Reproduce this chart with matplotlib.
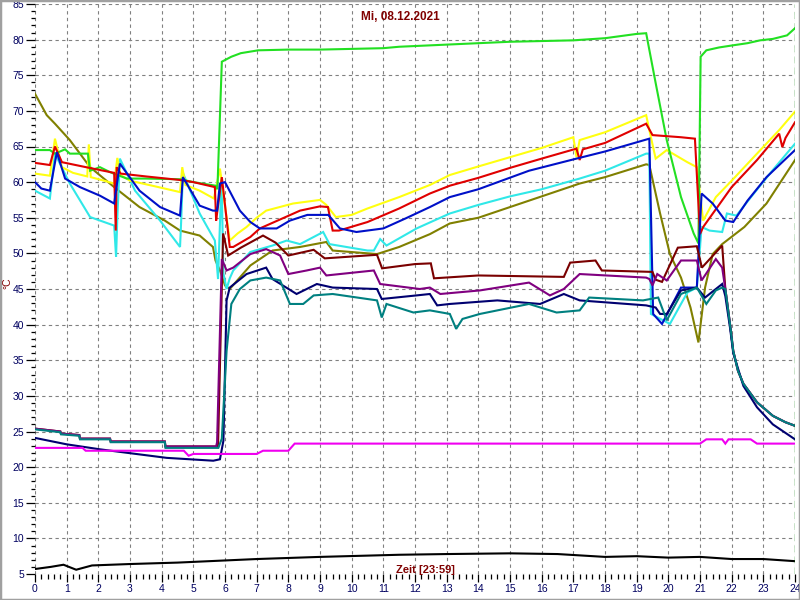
import matplotlib
matplotlib.use("Agg")
import matplotlib.pyplot as plt
from matplotlib.ticker import MultipleLocator
from matplotlib.patches import Rectangle

# ---------------- data (hour of day, °C) ----------------
title = "Mi, 08.12.2021"
xlabel = "Zeit [23:59]"
ylabel = "°C"

green_t = [0, 0.47, 0.63, 0.95, 1.1, 1.67, 1.74, 2.05, 2.37, 2.9, 3.5, 4.6, 5.0, 5.7, 5.76, 5.9, 6.2, 6.5, 7.05, 8.0,
           9.0, 10.0, 11.0, 11.5, 12.0, 13.0, 14.0, 15.0, 16.0, 17.0, 18.0, 18.5, 19.0, 19.3, 19.6, 19.95, 20.4, 20.8,
           20.95, 21.02, 21.2, 21.6, 22.04, 22.5, 22.9, 23.3, 23.75, 24.0]
green_v = [64.5, 64.5, 64.0, 64.6, 64.0, 64.0, 61.6, 62.1, 61.4, 60.5, 60.5, 60.4, 60.0, 59.5, 59.0, 76.9, 77.6, 78.1,
           78.5, 78.6, 78.6, 78.7, 78.8, 79.0, 79.1, 79.3, 79.5, 79.7, 79.8, 79.9, 80.2, 80.5, 80.8, 80.9, 73.9, 65.9,
           57.9, 52.8, 51.4, 77.6, 78.5, 78.9, 79.2, 79.5, 79.9, 80.1, 80.6, 81.6]

yellow_t = [0, 0.47, 0.63, 0.85, 1.2, 1.65, 1.7, 1.76, 2.1, 2.5, 2.6, 2.7, 3.0, 3.8, 4.58, 4.65, 4.75, 5.2, 5.65,
            5.84, 6.15, 6.4, 6.68, 7.0, 7.3, 8.15, 9.0, 9.2, 9.5, 10.0, 10.5, 11.5, 12.47, 13.1, 14.0, 15.0, 16.0,
            17.0, 17.1, 17.2, 18.0, 19.3, 19.4, 19.6, 19.95, 20.6, 20.9, 21.1, 21.5, 22.0, 22.8, 23.5, 24.0]
yellow_v = [61.2, 60.9, 66.1, 62.1, 61.3, 60.8, 65.3, 60.7, 60.3, 59.8, 63.4, 61.0, 60.2, 59.4, 58.6, 62.1, 59.6,
            58.8, 57.7, 61.9, 51.8, 52.8, 53.7, 55.0, 56.0, 57.0, 57.5, 56.8, 55.1, 55.4, 56.3, 57.9, 59.6, 61.0,
            62.2, 63.5, 64.8, 66.3, 63.5, 65.9, 67.0, 69.4, 67.3, 63.3, 64.5, 62.8, 62.1, 54.6, 57.9, 60.2, 64.0,
            67.3, 69.9]

red_t = [0, 0.47, 0.63, 0.85, 1.5, 2.05, 2.5, 2.55, 2.58, 2.62, 2.7, 3.5, 4.58, 5.0, 5.68, 5.72, 5.76, 5.9, 6.15,
         6.26, 6.8, 7.1, 8.37, 9.0, 9.25, 9.4, 9.6, 10.5, 11.5, 12.47, 13.1, 14.0, 15.0, 16.0, 17.1, 17.2, 17.3,
         18.0, 19.3, 19.5, 20.4, 20.84, 21.0, 21.1, 22.0, 22.8, 23.5, 23.6, 23.7, 24.0]
red_v = [62.7, 62.4, 65.0, 62.8, 62.2, 61.7, 61.3, 53.2, 62.1, 61.8, 61.2, 60.8, 60.3, 60.0, 59.3, 54.6, 56.0, 60.7,
         50.9, 50.9, 52.3, 53.5, 56.0, 56.6, 56.5, 53.2, 53.2, 54.4, 56.3, 58.4, 59.5, 60.6, 62.0, 63.3, 64.7, 63.1,
         64.6, 65.5, 68.2, 66.6, 66.3, 66.1, 52.7, 53.7, 59.3, 63.1, 66.8, 64.9, 66.2, 68.4]

blue_t = [0, 0.2, 0.47, 0.69, 0.95, 1.42, 2.05, 2.5, 2.68, 3.3, 3.95, 4.58, 4.67, 5.2, 5.62, 5.75, 5.84, 6.0, 6.47,
          6.8, 7.1, 7.63, 8.05, 8.6, 9.26, 9.63, 10.15, 11.0, 11.7, 12.47, 13.1, 14.0, 15.6, 17.1, 18.0, 19.4,
          19.52, 19.8, 20.4, 20.9, 21.05, 21.4, 21.8, 22.05, 22.5, 23.1, 24.0]
blue_v = [60.0, 59.1, 58.8, 64.2, 60.5, 59.3, 58.1, 57.0, 62.6, 58.8, 56.5, 55.3, 60.7, 56.7, 56.0, 56.0, 59.8, 60.0,
          56.0, 54.4, 53.5, 53.5, 54.6, 55.4, 55.4, 53.5, 53.0, 53.5, 54.9, 56.5, 57.9, 59.0, 61.6, 63.3, 64.3,
          66.1, 41.5, 40.1, 45.2, 45.2, 58.4, 57.0, 54.6, 54.4, 57.4, 60.7, 64.5]

cyan_t = [0, 0.47, 0.63, 1.1, 1.74, 2.5, 2.56, 2.6, 2.68, 3.16, 3.95, 4.58, 4.62, 4.67, 5.2, 5.68, 5.78, 5.89, 5.95,
          6.05, 6.15, 6.26, 6.8, 7.5, 7.95, 8.37, 9.1, 9.3, 10.5, 10.7, 10.9, 11.1, 12.05, 13.1, 14.0, 15.0, 16.0,
          17.2, 18.0, 19.3, 19.4, 19.45, 20.05, 20.6, 20.9, 21.05, 21.3, 21.7, 21.85, 22.15, 22.7, 23.3, 24.0]
cyan_v = [58.8, 57.7, 64.0, 59.8, 55.1, 53.9, 49.5, 55.0, 63.3, 58.8, 54.6, 50.9, 55.0, 61.3, 55.6, 51.8, 46.4,
          60.5, 47.2, 45.0, 46.5, 47.6, 50.2, 51.1, 51.8, 51.3, 53.0, 51.3, 50.4, 50.4, 52.0, 51.1, 53.5, 55.6,
          56.8, 58.0, 59.0, 60.5, 61.6, 64.0, 64.0, 41.5, 40.1, 44.5, 45.2, 53.7, 53.2, 53.0, 55.6, 55.3, 58.4,
          61.7, 65.4]

olive_t = [0, 0.37, 0.63, 1.1, 1.74, 2.5, 3.3, 4.1, 4.58, 5.2, 5.62, 5.7, 5.85, 6.0, 6.15, 6.8, 7.5, 8.37, 9.2,
           9.4, 10.8, 11.5, 12.47, 13.1, 14.0, 15.6, 17.2, 18.0, 19.3, 19.4, 19.74, 20.05, 20.4, 20.7, 20.95,
           21.16, 21.4, 21.7, 22.4, 23.1, 24.0]
olive_v = [72.4, 69.4, 68.2, 65.9, 62.1, 59.3, 56.5, 54.6, 53.2, 52.5, 50.9, 49.0, 47.5, 45.5, 45.0, 48.3, 50.4,
           50.9, 51.6, 50.4, 49.9, 50.9, 52.7, 54.2, 55.0, 57.4, 59.8, 60.7, 62.5, 62.4, 55.6, 49.9, 46.6, 42.4,
           37.5, 45.2, 49.9, 51.3, 53.7, 57.0, 63.1]

maroon_t = [0, 0.8, 0.82, 1.4, 1.42, 2.37, 2.39, 4.1, 4.12, 5.78, 5.94, 6.1, 6.5, 7.2, 7.6, 8.0, 8.8, 9.15, 10.8,
            10.96, 12.0, 12.5, 12.6, 14.0, 16.7, 16.9, 17.7, 17.9, 19.5, 19.6, 19.8, 20.3, 20.9, 21.06, 21.7,
            21.8, 21.95, 22.05, 22.2, 22.37, 22.8, 23.3, 23.7, 24.0]
maroon_v = [25.4, 25.0, 24.7, 24.5, 24.0, 24.0, 23.6, 23.6, 22.9, 22.9, 52.8, 49.7, 50.8, 52.5, 51.5, 49.7, 50.5,
            49.3, 49.8, 47.9, 48.5, 48.6, 46.5, 46.9, 46.7, 48.7, 49.0, 47.6, 47.4, 46.3, 46.0, 50.8, 51.0, 48.0,
            51.1, 45.0, 40.0, 36.3, 33.5, 31.7, 29.1, 27.2, 26.3, 25.8]

purple_t = [0, 0.8, 0.82, 1.4, 1.42, 2.37, 2.39, 4.1, 4.12, 5.72, 5.75, 5.9, 6.05, 6.26, 6.8, 7.3, 7.74, 8.0, 8.58,
            9.0, 9.2, 10.7, 10.9, 12.15, 12.47, 12.8, 14.05, 15.6, 16.26, 16.7, 17.2, 19.3, 19.4, 19.5, 19.65,
            19.95, 20.4, 20.9, 21.05, 21.5, 21.7, 21.8, 21.95, 22.05, 22.2, 22.37, 22.8, 23.3, 23.7, 24.0]
purple_v = [25.4, 25.0, 24.7, 24.5, 24.0, 24.0, 23.6, 23.6, 22.9, 22.9, 23.5, 49.2, 47.6, 48.0, 49.9, 50.6, 49.7,
            47.1, 47.6, 48.0, 46.9, 47.6, 45.7, 45.0, 45.2, 44.3, 44.8, 45.9, 44.1, 45.0, 47.1, 46.6, 46.4, 45.5,
            47.1, 46.2, 49.0, 49.0, 46.2, 49.2, 48.0, 45.0, 40.0, 36.3, 33.5, 31.7, 29.1, 27.2, 26.3, 25.8]

navy_t = [0, 1.0, 2.05, 3.1, 4.16, 5.63, 5.84, 5.95, 6.05, 6.15, 6.68, 7.3, 7.5, 8.26, 8.9, 9.4, 10.8, 10.95,
          12.05, 12.47, 12.7, 13.1, 14.6, 15.95, 16.7, 17.2, 19.3, 19.6, 19.74, 19.95, 20.4, 20.9, 21.16, 21.5,
          21.7, 21.8, 21.95, 22.05, 22.37, 22.8, 23.3, 24.0]
navy_v = [24.1, 23.2, 22.5, 21.9, 21.3, 20.9, 21.1, 23.7, 43.4, 45.2, 47.1, 48.0, 46.4, 44.3, 45.7, 45.2, 45.0,
          43.6, 44.1, 44.3, 42.7, 42.9, 43.4, 42.9, 44.3, 43.4, 42.7, 42.4, 41.5, 41.5, 44.8, 45.2, 43.8, 45.0,
          45.7, 44.0, 39.5, 36.0, 31.4, 28.4, 26.0, 23.9]

teal_t = [0, 0.8, 0.82, 1.4, 1.42, 2.37, 2.39, 4.1, 4.12, 5.79, 5.9, 6.05, 6.2, 6.47, 6.8, 7.3, 7.74, 8.05, 8.47,
          8.8, 9.4, 10.8, 10.95, 11.1, 11.95, 12.47, 13.1, 13.3, 13.5, 14.05, 15.6, 16.47, 17.2, 17.5, 19.2,
          19.68, 19.95, 20.4, 20.9, 21.2, 21.5, 21.7, 21.8, 21.95, 22.05, 22.2, 22.37, 22.8, 23.3, 23.7, 24.0]
teal_v = [25.3, 24.9, 24.6, 24.4, 23.9, 23.9, 23.5, 23.5, 22.7, 22.7, 24.0, 36.3, 42.9, 45.0, 46.2, 46.6, 46.2,
          42.9, 42.9, 44.1, 44.3, 43.4, 41.0, 42.9, 41.7, 42.0, 41.5, 39.4, 40.8, 41.5, 42.9, 41.7, 42.0, 43.8,
          43.4, 43.8, 40.6, 44.3, 45.2, 42.9, 44.8, 45.2, 45.0, 40.0, 36.3, 33.5, 31.7, 29.1, 27.2, 26.3, 25.8]

magenta_t = [0, 1.5, 1.6, 4.7, 4.85, 5.0, 7.0, 7.2, 8.0, 8.2, 21.0, 21.2, 21.7, 21.8, 21.9, 22.6, 22.8, 24.0]
magenta_v = [22.7, 22.7, 22.3, 22.3, 21.6, 21.85, 21.85, 22.3, 22.3, 23.3, 23.3, 23.9, 23.9, 23.3, 23.9, 23.9,
             23.3, 23.3]

black_t = [0, 0.5, 0.9, 1.3, 1.8, 3.0, 4.5, 5.5, 7.0, 9.0, 11.5, 13.0, 15.0, 16.5, 18.0, 19.0, 20.0, 21.0, 22.0,
           23.0, 24.0]
black_v = [5.7, 6.0, 6.3, 5.6, 6.2, 6.4, 6.6, 6.8, 7.1, 7.4, 7.7, 7.8, 7.9, 7.8, 7.4, 7.5, 7.3, 7.4, 7.1, 7.1, 6.8]

series = [
    (olive_t, olive_v, "#808000"),
    (cyan_t, cyan_v, "#30e8e8"),
    (yellow_t, yellow_v, "#ffff10"),
    (green_t, green_v, "#22e022"),
    (red_t, red_v, "#e00000"),
    (blue_t, blue_v, "#0010c8"),
    (maroon_t, maroon_v, "#7a0000"),
    (purple_t, purple_v, "#800080"),
    (navy_t, navy_v, "#000070"),
    (teal_t, teal_v, "#008080"),
    (magenta_t, magenta_v, "#f000f0"),
    (black_t, black_v, "#000000"),
]

plt.rcParams["font.family"] = ["Liberation Sans", "DejaVu Sans"]

fig = plt.figure(figsize=(8, 6), dpi=100)
fig.patch.set_facecolor("white")
ax = fig.add_axes([35 / 800, 1 - 574 / 600, 760 / 800, 570 / 600])
ax.set_facecolor("white")

for t, v, c in series:
    ax.plot(t, v, color=c, lw=1.5, solid_joinstyle="miter")

ax.set_xlim(0, 24)
ax.set_ylim(5, 85)
ax.xaxis.set_major_locator(MultipleLocator(1))
ax.xaxis.set_minor_locator(MultipleLocator(0.2))
ax.yaxis.set_major_locator(MultipleLocator(5))
ax.yaxis.set_minor_locator(MultipleLocator(1))
for s in ax.spines.values():
    s.set_visible(False)
ax.grid(True, which="major", color="#808080", linestyle=(0, (3, 3)), linewidth=0.8)
ax.tick_params(axis="both", which="major", direction="out", color="black", width=0.9,
               labelsize=7.5, labelcolor="#000060")
ax.tick_params(axis="y", which="major", length=6.5, pad=1.5)
ax.tick_params(axis="y", which="minor", length=3, width=0.9, color="black")
ax.tick_params(axis="x", which="major", length=5.5, pad=1.5)
ax.tick_params(axis="x", which="minor", length=3.5, width=0.9, color="black")

ax.axvline(24, color="#008000", lw=1, linestyle=(0, (5, 3)))

fig.text(400 / 800, 1 - 17 / 600, title, ha="center", va="center", color="#800000",
         fontsize=8.5, fontweight="bold")
fig.text(425 / 800, 1 - 570 / 600, xlabel, ha="center", va="center", color="#800000",
         fontsize=8, fontweight="bold")
fig.text(7 / 800, 1 - 283 / 600, ylabel, ha="center", va="center", color="#800000",
         fontsize=7.5, rotation=90)

fig.add_artist(Rectangle((0, 0), 1, 1, transform=fig.transFigure, fill=False,
                         edgecolor="#a0a0a0", linewidth=2.5))

fig.savefig("out.png", dpi=100, facecolor="white")
